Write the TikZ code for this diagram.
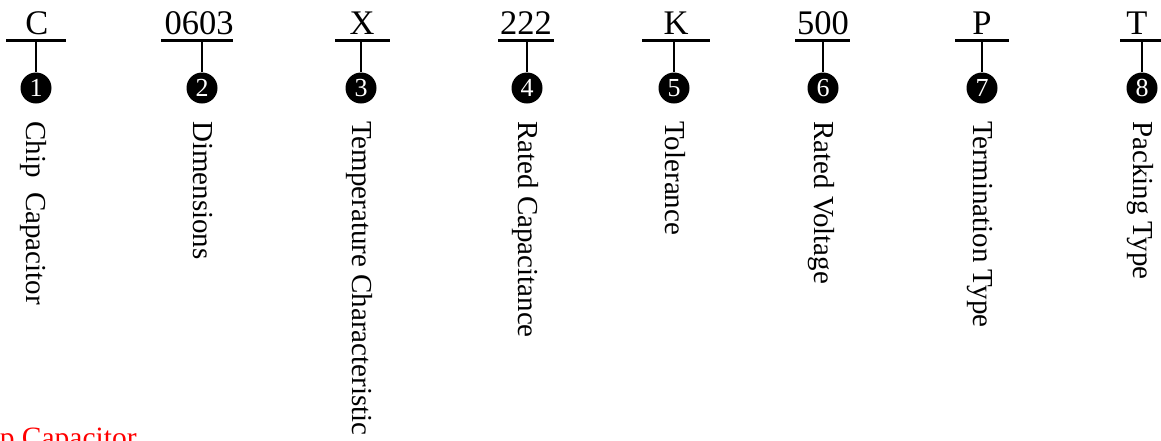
\documentclass[tikz,border=0pt]{standalone}
\usepackage{fontspec}
\setmainfont{Liberation Serif}
\begin{document}
\begin{tikzpicture}[x=1pt,y=-1pt,
  codelbl/.style={font=\fontsize{34.5}{36}\selectfont, inner sep=0pt, anchor=base},
  bar/.style={line width=2.6pt},
  numdot/.style={circle, fill=black, minimum size=31pt, inner sep=0pt, text=white,
                 font=\fontsize{26}{26}\selectfont},
  desc/.style={rotate=-90, anchor=base west, inner sep=0pt, font=\fontsize{29}{30}\selectfont},
  note/.style={text=red, anchor=base west, inner sep=0pt, font=\fontsize{29.5}{30}\selectfont}]
\useasboundingbox (0,0) rectangle (1161,440);

% one column per field of the part number
\foreach \i/\xs/\xl/\xr/\xc/\code/\desc in {
  1/36/6/66/37/C/{Chip\ \ Capacitor},
  2/202/161/233/199/0603/{Dimensions},
  3/361/335/390/362/X/{Temperature Characteristic},
  4/527/498/554/526/222/{Rated Capacitance},
  5/674/642/710/676/K/{Tolerance},
  6/823/795/850/823/500/{Rated Voltage},
  7/982/955/1009/982/P/{Termination Type},
  8/1142/1120/1164/1137/T/{Packing Type}} {
  \node[codelbl] (code\i) at (\xc,34) {\code};
  \coordinate (bl\i) at (\xl,40.5);
  \coordinate (br\i) at (\xr,40.5);
  \coordinate (top\i) at (\xs,40.5);
  \node[numdot] (num\i) at (\xs,88) {\i};
  \node[desc] (desc\i) at (\xs-9,121) {\desc};
  \draw[bar] (bl\i) -- (br\i);
  \draw[bar] (top\i) -- (num\i.north);
}

% caption line, cut by the picture edge
\begin{scope}
  \clip (0,0) rectangle (1161,440);
  \node[note] (caption) at (-43,447) {Chip Capacitor};
\end{scope}
\end{tikzpicture}
\end{document}
